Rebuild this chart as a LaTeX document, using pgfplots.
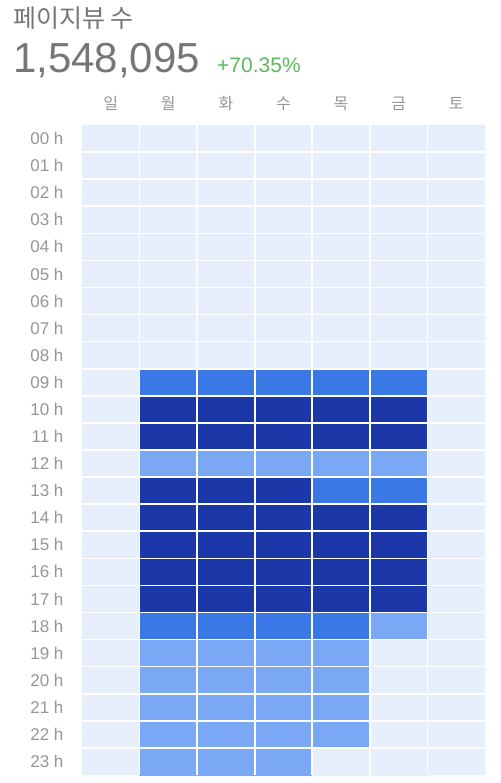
\documentclass[border=0pt]{standalone}
\usepackage{pgfplots}
\pgfplotsset{compat=1.18}
\usepackage{pgfplotstable}
\usepackage{fontspec}
\setmainfont{Liberation Sans}
\newfontfamily\kr{Noto Sans CJK KR}
\definecolor{cL}{RGB}{232,239,252}
\definecolor{cLM}{RGB}{123,168,245}
\definecolor{cM}{RGB}{58,120,230}
\definecolor{cD}{RGB}{28,56,168}
\definecolor{tgray}{RGB}{118,118,118}
\definecolor{lgray}{RGB}{150,150,150}
\definecolor{pgreen}{RGB}{92,184,92}
\pgfplotstableread{
x y v
0 0 0
1 0 0
2 0 0
3 0 0
4 0 0
5 0 0
6 0 0
0 1 0
1 1 0
2 1 0
3 1 0
4 1 0
5 1 0
6 1 0
0 2 0
1 2 0
2 2 0
3 2 0
4 2 0
5 2 0
6 2 0
0 3 0
1 3 0
2 3 0
3 3 0
4 3 0
5 3 0
6 3 0
0 4 0
1 4 0
2 4 0
3 4 0
4 4 0
5 4 0
6 4 0
0 5 0
1 5 0
2 5 0
3 5 0
4 5 0
5 5 0
6 5 0
0 6 0
1 6 0
2 6 0
3 6 0
4 6 0
5 6 0
6 6 0
0 7 0
1 7 0
2 7 0
3 7 0
4 7 0
5 7 0
6 7 0
0 8 0
1 8 0
2 8 0
3 8 0
4 8 0
5 8 0
6 8 0
0 9 0
1 9 2
2 9 2
3 9 2
4 9 2
5 9 2
6 9 0
0 10 0
1 10 3
2 10 3
3 10 3
4 10 3
5 10 3
6 10 0
0 11 0
1 11 3
2 11 3
3 11 3
4 11 3
5 11 3
6 11 0
0 12 0
1 12 1
2 12 1
3 12 1
4 12 1
5 12 1
6 12 0
0 13 0
1 13 3
2 13 3
3 13 3
4 13 2
5 13 2
6 13 0
0 14 0
1 14 3
2 14 3
3 14 3
4 14 3
5 14 3
6 14 0
0 15 0
1 15 3
2 15 3
3 15 3
4 15 3
5 15 3
6 15 0
0 16 0
1 16 3
2 16 3
3 16 3
4 16 3
5 16 3
6 16 0
0 17 0
1 17 3
2 17 3
3 17 3
4 17 3
5 17 3
6 17 0
0 18 0
1 18 2
2 18 2
3 18 2
4 18 2
5 18 1
6 18 0
0 19 0
1 19 1
2 19 1
3 19 1
4 19 1
5 19 0
6 19 0
0 20 0
1 20 1
2 20 1
3 20 1
4 20 1
5 20 0
6 20 0
0 21 0
1 21 1
2 21 1
3 21 1
4 21 1
5 21 0
6 21 0
0 22 0
1 22 1
2 22 1
3 22 1
4 22 1
5 22 0
6 22 0
0 23 0
1 23 1
2 23 1
3 23 1
4 23 0
5 23 0
6 23 0
}\heat
\begin{document}
\begin{tikzpicture}
\useasboundingbox (0,0) rectangle (500pt,783pt);
\begin{axis}[
  at={(82pt,8pt)}, anchor=south west,
  scale only axis, width=403pt, height=650pt,
  xmin=-0.5, xmax=6.5, ymin=-0.5, ymax=23.5,
  y dir=reverse,
  axis on top,
  axis line style={draw=none},
  major tick length=0pt, minor tick length=0pt,
  xtick={0,...,6},
  xticklabels={일,월,화,수,목,금,토},
  xticklabel pos=upper,
  xticklabel style={font=\kr\fontsize{16}{16}\selectfont, text=lgray, anchor=base, yshift=15pt},
  ytick={0,...,23},
  yticklabels={00 h,01 h,02 h,03 h,04 h,05 h,06 h,07 h,08 h,09 h,10 h,11 h,12 h,13 h,14 h,15 h,16 h,17 h,18 h,19 h,20 h,21 h,22 h,23 h},
  yticklabel style={font=\fontsize{17}{17}\selectfont, text=lgray, anchor=east, xshift=-15pt},
  minor xtick={0.5,1.5,...,5.5},
  minor ytick={0.5,1.5,...,22.5},
  xminorgrids, yminorgrids,
  minor grid style={white, line width=1.6pt},
  colormap={heat}{rgb255=(232,239,252) rgb255=(123,168,245) rgb255=(58,120,230) rgb255=(28,56,168)},
  point meta min=0, point meta max=3,
]
\addplot[matrix plot*, mesh/cols=7, point meta=explicit] table[x=x, y=y, meta=v] {\heat};
\end{axis}
\node[anchor=base west, inner sep=0pt, text=tgray, font=\kr\fontsize{25}{25}\selectfont] at (13pt,755pt) {페이지뷰 수};
\node[anchor=base west, inner sep=0pt, text=tgray, font=\fontsize{42}{42}\selectfont] at (13pt,710pt) {1,548,095};
\node[anchor=base west, inner sep=0pt, text=pgreen, font=\fontsize{21}{21}\selectfont] at (217pt,710pt) {+70.35\%};
\end{tikzpicture}
\end{document}
